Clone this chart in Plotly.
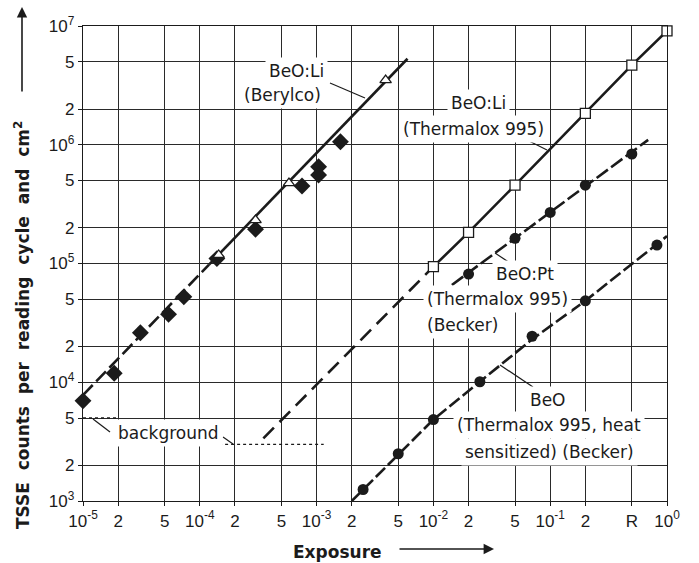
import plotly.graph_objects as go

# ---------------- data ----------------
# BeO:Li (Berylco) - open triangles
berylco_tri_x = [1.45e-4, 3.0e-4, 5.8e-4, 3.9e-3]
berylco_tri_y = [1.18e5, 2.32e5, 4.76e5, 3.5e6]
# filled diamonds on the Berylco line
berylco_dia_x = [1.0e-5, 1.85e-5, 3.1e-5, 5.4e-5, 7.3e-5, 1.4e-4, 3.0e-4, 7.5e-4, 1.04e-3, 1.04e-3, 1.6e-3]
berylco_dia_y = [6.97e3, 1.19e4, 2.61e4, 3.73e4, 5.24e4, 1.1e5, 1.94e5, 4.49e5, 6.53e5, 5.56e5, 1.06e6]
berylco_dash_x = [1.0e-5, 1.2e-4]
berylco_dash_y = [7.8e3, 9.8e4]
berylco_solid_x = [1.2e-4, 6.0e-3]
berylco_solid_y = [9.8e4, 5.3e6]

# BeO:Li (Thermalox 995) - open squares
therm_li_x = [0.01, 0.02, 0.05, 0.2, 0.5, 1.0]
therm_li_y = [9.4e4, 1.83e5, 4.57e5, 1.84e6, 4.69e6, 9.1e6]
therm_li_dash_x = [3.5e-4, 0.01]
therm_li_dash_y = [3.37e3, 9.4e4]

# BeO:Pt (Thermalox 995)(Becker) - filled circles
pt_x = [0.02, 0.05, 0.1, 0.2, 0.5]
pt_y = [8.15e4, 1.63e5, 2.69e5, 4.57e5, 8.36e5]
pt_line_x = [0.0144, 0.69]
pt_line_y = [6.6e4, 1.1e6]

# BeO (Thermalox 995, heat sensitized)(Becker) - filled circles
heat_x = [0.0025, 0.005, 0.01, 0.025, 0.07, 0.2, 0.82]
heat_y = [1.25e3, 2.5e3, 4.85e3, 1.01e4, 2.44e4, 4.85e4, 1.43e5]
heat_line_x = [2.0e-3, 0.01, 0.07, 0.2, 1.0]
heat_line_y = [1.0e3, 4.85e3, 2.3e4, 4.85e4, 1.7e5]

# background levels
bg1_x = [1.0e-5, 2.0e-5]
bg1_y = [5.0e3, 5.0e3]
bg2_x = [1.3e-4, 1.15e-3]
bg2_y = [3.0e3, 3.0e3]

# ticks
x_tickvals = [1e-5, 2e-5, 5e-5, 1e-4, 2e-4, 5e-4, 1e-3, 2e-3, 5e-3,
              1e-2, 2e-2, 5e-2, 1e-1, 2e-1, 5e-1, 1e0]
x_ticktext = ["10<sup>-5</sup>", "2", "5", "10<sup>-4</sup>", "2", "5",
              "10<sup>-3</sup>", "2", "5", "10<sup>-2</sup>", "2", "5",
              "10<sup>-1</sup>", "2", "R", "10<sup>0</sup>"]
y_tickvals = [1e3, 2e3, 5e3, 1e4, 2e4, 5e4, 1e5, 2e5, 5e5, 1e6, 2e6, 5e6, 1e7]
y_ticktext = ["10<sup>3</sup>", "2", "5", "10<sup>4</sup>", "2", "5",
              "10<sup>5</sup>", "2", "5", "10<sup>6</sup>", "2", "5", "10<sup>7</sup>"]

# ---------------- figure ----------------
W, H = 699, 563
X0, X1, Y0, Y1 = 83, 667, 26, 501  # plot area in pixels
INK = "#1b1b1b"


def pxx(x):
    return (x - X0) / (X1 - X0)


def pyy(y):
    return (Y1 - y) / (Y1 - Y0)


fig = go.Figure()
LW = 2.6


def line(x, y, dash="solid"):
    fig.add_trace(go.Scatter(x=x, y=y, mode="lines",
                             line=dict(color=INK, width=LW, dash=dash),
                             showlegend=False, hoverinfo="skip"))


# lines
line(berylco_dash_x, berylco_dash_y, "14px,5px")
line(berylco_solid_x, berylco_solid_y)
line(therm_li_dash_x, therm_li_dash_y, "15px,8px")
line(therm_li_x, therm_li_y)
line(pt_line_x, pt_line_y, "14px,4px")
line(heat_line_x, heat_line_y, "13px,4px")

for bx, by in [(bg1_x, bg1_y), (bg2_x, bg2_y)]:
    fig.add_trace(go.Scatter(x=bx, y=by, mode="lines",
                             line=dict(color=INK, width=1.4, dash="dot"),
                             showlegend=False, hoverinfo="skip"))

# markers
fig.add_trace(go.Scatter(x=berylco_dia_x, y=berylco_dia_y, mode="markers",
                         marker=dict(symbol="diamond", size=13, color=INK),
                         showlegend=False, cliponaxis=False))
fig.add_trace(go.Scatter(x=berylco_tri_x, y=berylco_tri_y, mode="markers",
                         marker=dict(symbol="triangle-up", size=10, color="white",
                                     line=dict(color=INK, width=1.3)),
                         showlegend=False, cliponaxis=False))
fig.add_trace(go.Scatter(x=therm_li_x, y=therm_li_y, mode="markers",
                         marker=dict(symbol="square", size=10, color="white",
                                     line=dict(color=INK, width=1.3)),
                         showlegend=False, cliponaxis=False))
fig.add_trace(go.Scatter(x=pt_x, y=pt_y, mode="markers",
                         marker=dict(symbol="circle", size=11, color=INK),
                         showlegend=False, cliponaxis=False))
fig.add_trace(go.Scatter(x=heat_x, y=heat_y, mode="markers",
                         marker=dict(symbol="circle", size=11, color=INK),
                         showlegend=False, cliponaxis=False))

LABEL_FONT = dict(family="DejaVu Sans", size=17, color=INK)
annotations = []


def label(text, x, y, xanchor="center"):
    annotations.append(dict(text=text, x=pxx(x), y=pyy(y), xref="paper", yref="paper",
                            xanchor=xanchor, yanchor="middle", showarrow=False,
                            font=LABEL_FONT, bgcolor="white", borderpad=3, align="left"))


label("BeO:Li", 328, 71, "right")
label("(Berylco)", 325, 95, "right")
label("BeO:Li", 478, 103)
label("(Thermalox 995)", 473, 129)
label("BeO:Pt", 492, 274, "left")
label("(Thermalox 995)", 423, 299, "left")
label("(Becker)", 423, 325, "left")
label("BeO", 548, 400)
label("(Thermalox 995, heat", 549, 425)
label("sensitized) (Becker)", 549, 452)
label("background", 168, 433)

# axis titles
annotations.append(dict(text="Exposure", x=pxx(337), y=pyy(552), xref="paper", yref="paper",
                        showarrow=False, xanchor="center", yanchor="middle",
                        font=dict(family="DejaVu Sans", size=17, color=INK, weight="bold")))
annotations.append(dict(text="TSSE\u00a0 counts\u00a0 per\u00a0 reading\u00a0 cycle\u00a0 and\u00a0 cm<sup>2</sup>",
                        x=pxx(22), y=pyy(325), xref="paper", yref="paper", textangle=-90,
                        showarrow=False, xanchor="center", yanchor="middle",
                        font=dict(family="DejaVu Sans", size=17, color=INK, weight="bold")))
# arrows of the axis titles
annotations.append(dict(text="", x=pxx(494), y=pyy(549), xref="paper", yref="paper",
                        showarrow=True, ax=-96, ay=0, arrowhead=2, arrowsize=1.3,
                        arrowwidth=1.6, arrowcolor=INK))
annotations.append(dict(text="", x=pxx(22), y=pyy(7), xref="paper", yref="paper",
                        showarrow=True, ax=0, ay=86, arrowhead=2, arrowsize=1.3,
                        arrowwidth=1.6, arrowcolor=INK))

# leader lines (pixel positions)
leaders = [((330, 83), (365, 98)),
           ((523, 138), (547, 150)),
           ((495, 253), (510, 263)),
           ((500, 365), (533, 387)),
           ((93, 419), (110, 432)),
           ((223, 437), (233, 444))]
shapes = [dict(type="line", xref="paper", yref="paper",
               x0=pxx(a[0]), y0=pyy(a[1]), x1=pxx(b[0]), y1=pyy(b[1]),
               line=dict(color=INK, width=1.2)) for a, b in leaders]

axis_common = dict(type="log", showgrid=True, gridcolor="#2a2a2a", gridwidth=1.1,
                   showline=True, linecolor=INK, linewidth=1.4, mirror=True,
                   ticks="outside", ticklen=4, tickcolor=INK, zeroline=False,
                   tickfont=dict(family="Liberation Sans", size=17, color=INK),
                   tickmode="array")

fig.update_layout(
    width=W, height=H,
    margin=dict(l=X0, r=W - X1, t=Y0, b=H - Y1),
    plot_bgcolor="white", paper_bgcolor="white",
    xaxis=dict(range=[-5, 0], tickvals=x_tickvals, ticktext=x_ticktext, **axis_common),
    yaxis=dict(range=[3, 7], tickvals=y_tickvals, ticktext=y_ticktext, **axis_common),
    annotations=annotations, shapes=shapes,
    showlegend=False,
)

fig.write_html("out.html")
